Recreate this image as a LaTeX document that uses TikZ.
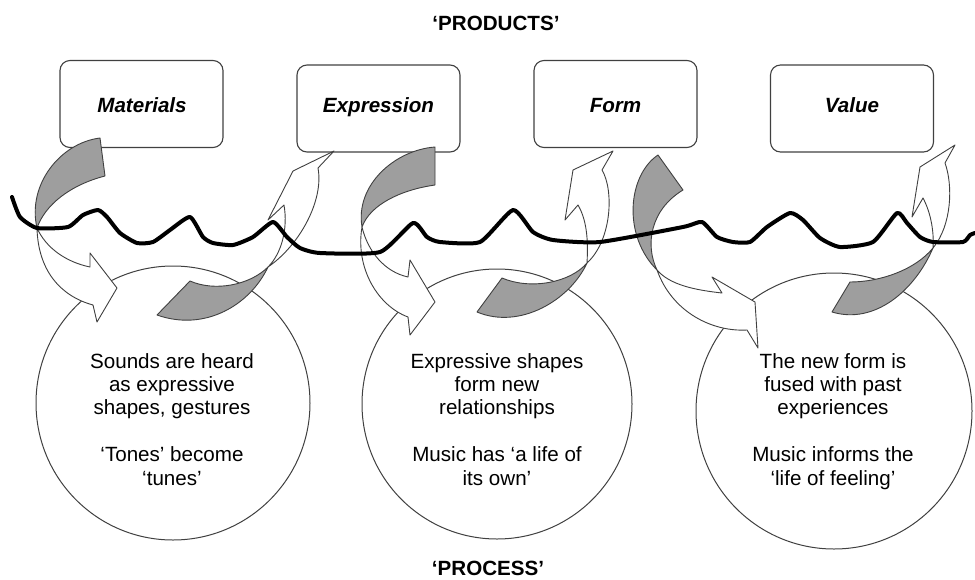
\documentclass[tikz,border=0pt]{standalone}
\usepackage{fontspec}
\setmainfont{Liberation Sans}

\tikzset{
  prod/.style={draw=black!75, line width=1.1pt, rounded corners=10pt, minimum width=163pt, minimum height=87pt},
  bubble/.style={circle, draw=black!75, line width=1pt, inner sep=0pt},
  back/.style={fill=black!38, draw=black!75, line width=0.9pt, line join=round},
  front/.style={fill=white, draw=black!75, line width=0.9pt, line join=round},
  wave/.style={line width=4pt, line cap=round, line join=round},
  lbl/.style={anchor=base, font=\fontsize{20.6}{23.4}\selectfont\bfseries\itshape},
  ttl/.style={anchor=base, font=\fontsize{20.6}{23.4}\selectfont\bfseries},
  txt/.style={align=center, anchor=north, inner sep=0pt, font=\fontsize{20.6}{23.4}\selectfont},
}

\begin{document}
\begin{tikzpicture}[x=1pt, y=-1pt]
\useasboundingbox (0,0) rectangle (975,579);

% products
\node[prod] (mat)  at (141.5,104)   {};
\node[prod] (expr) at (378.5,108.5) {};
\node[prod] (form) at (615.5,104)   {};
\node[prod] (val)  at (852,108.5)   {};

% process
\node[bubble, minimum size=274pt] (c1) at (173,403) {};
\node[bubble, minimum size=270pt] (c2) at (497,404) {};
\node[bubble, minimum size=276pt] (c3) at (834,411) {};

%Ribbons down: box -> circle
\filldraw[back]  (100,138) .. controls (60,143) and (27,185) .. (37,228) .. controls (45,205) and (70,185) .. (105,176) -- cycle;
\filldraw[front] (37,228) .. controls (38,270) and (60,296) .. (93,305) -- (97,322) -- (117,288) -- (90,253) -- (90,267) .. controls (66,262) and (46,248) .. (37,228) -- cycle;

\filldraw[back]  (435,147) .. controls (395,150) and (355,185) .. (362,227) .. controls (370,205) and (400,190) .. (435,185) -- cycle;
\filldraw[front] (362,227) .. controls (355,268) and (378,306) .. (408,317) -- (410,335) -- (435,302) -- (410,260) -- (408,277) .. controls (385,272) and (368,252) .. (362,227) -- cycle;

\filldraw[back]  (658,155) .. controls (628,175) and (622,235) .. (657,270) .. controls (645,245) and (650,210) .. (683,190) -- cycle;
\filldraw[front] (657,270) .. controls (672,312) and (712,332) .. (747,330) -- (758,348) -- (755,302) -- (712,277) -- (722,293) .. controls (695,290) and (670,285) .. (657,270) -- cycle;

%Ribbons up: circle -> next box
\filldraw[back]  (157,315) .. controls (205,332) and (250,305) .. (268,267) .. controls (250,285) and (215,292) .. (190,281) -- cycle;
\filldraw[front] (268,267) .. controls (282,253) and (288,228) .. (284,205) -- (268,220) -- (293,171) -- (334,151) -- (318,168) .. controls (324,200) and (300,245) .. (268,267) -- cycle;

\filldraw[back]  (477,312) .. controls (520,330) and (570,300) .. (587,263) .. controls (570,283) and (530,290) .. (502,278) -- cycle;
\filldraw[front] (587,263) .. controls (588,245) and (588,222) .. (578,205) -- (565,220) -- (573,170) -- (613,151) -- (602,170) .. controls (614,190) and (612,240) .. (587,263) -- cycle;

\filldraw[back]  (832,312) .. controls (875,325) and (915,290) .. (933,248) .. controls (915,270) and (880,282) .. (850,282) -- cycle;
\filldraw[front] (933,248) .. controls (934,235) and (932,215) .. (923,198) -- (912,217) -- (920,167) -- (955,145) -- (945,163) .. controls (953,185) and (952,225) .. (933,248) -- cycle;

% the wavy line
\draw[wave] plot[smooth, tension=0.35] coordinates {(12,197) (20,217) (37,228) (68,227) (83,215) (98,210) (107,217) (120,233) (137,243) (153,242) (170,230) (190,217) (203,237) (213,243) (233,245) (253,237) (273,222) (287,237) (300,248) (320,253) (380,252) (413,223) (427,237) (440,242) (480,242) (513,210) (533,232) (553,240) (600,242) (683,227) (702,222) (717,237) (733,242) (750,242) (767,227) (790,213) (803,220) (820,238) (840,247) (873,242) (897,213) (907,223) (920,237) (933,242) (963,242) (970,235) (975,233)};

% labels
\node[lbl] (matlbl)  at (142,112) {Materials};
\node[lbl] (exprlbl) at (378.5,112) {Expression};
\node[lbl] (formlbl) at (615.5,112) {Form};
\node[lbl] (vallbl)  at (852,112) {Value};

\node[ttl] (prodttl) at (496,30.5) {‘PRODUCTS’};
\node[ttl] (procttl) at (488,575) {‘PROCESS’};

\node[txt] (t1) at (172,353) {Sounds are heard\\as expressive\\shapes, gestures\\[23.4pt]‘Tones’ become\\‘tunes’};
\node[txt] (t2) at (497,353) {Expressive shapes\\form new\\relationships\\[23.4pt]Music has ‘a life of\\its own’};
\node[txt] (t3) at (833,353) {The new form is\\fused with past\\experiences\\[23.4pt]Music informs the\\‘life of feeling’};

\end{tikzpicture}
\end{document}
